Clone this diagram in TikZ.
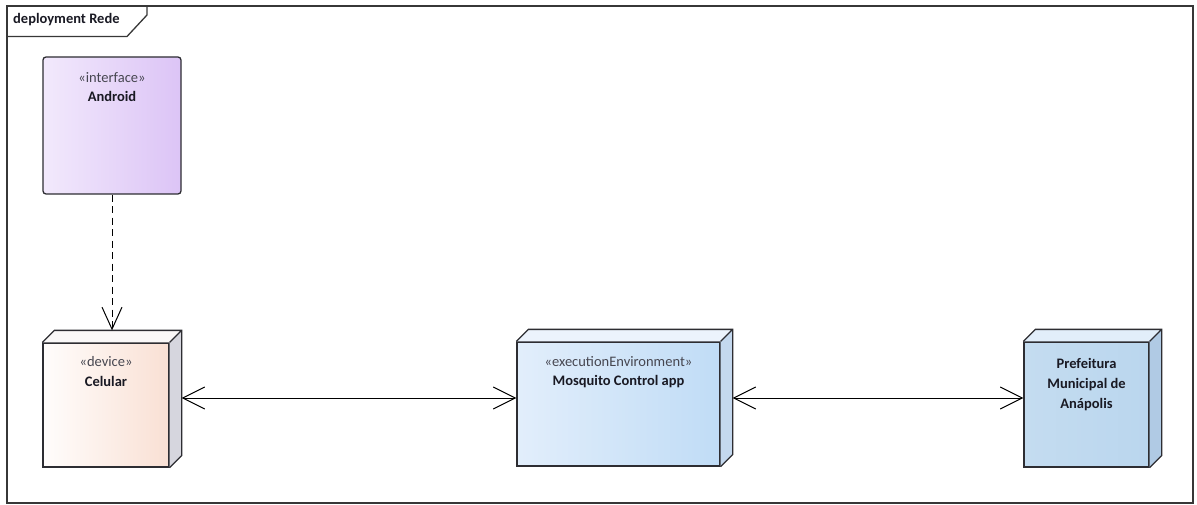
\documentclass[tikz,border=0pt]{standalone}
\usepackage{fontspec}
\setmainfont{Carlito}
\usetikzlibrary{calc,arrows.meta}
\definecolor{framegray}{RGB}{55,55,55}
\definecolor{edgegray}{RGB}{45,45,50}
\definecolor{andL}{RGB}{242,233,252}
\definecolor{andR}{RGB}{220,196,246}
\definecolor{celL}{RGB}{255,253,252}
\definecolor{celR}{RGB}{249,224,212}
\definecolor{celSide}{RGB}{214,214,222}
\definecolor{celTop}{RGB}{250,248,248}
\definecolor{mosL}{RGB}{226,238,251}
\definecolor{mosR}{RGB}{192,220,246}
\definecolor{mosSide}{RGB}{196,216,238}
\definecolor{mosTop}{RGB}{236,243,252}
\definecolor{prfL}{RGB}{196,220,240}
\definecolor{prfR}{RGB}{186,214,238}
\definecolor{prfSide}{RGB}{176,202,228}
\definecolor{prfTop}{RGB}{226,238,250}
\definecolor{stereo}{RGB}{70,70,80}
\definecolor{nametext}{RGB}{25,25,35}
% top and side faces of a 3D box drawn behind a named front-face node
\newcommand{\cubefaces}[3]{%
  \fill[#2] (#1.north west) -- ++(12,-12) -- ($(#1.north east)+(12,-12)$) -- (#1.north east) -- cycle;
  \fill[#3] (#1.north east) -- ++(12,-12) -- ($(#1.south east)+(12,-12)$) -- (#1.south east) -- cycle;
  \draw[edgegray,line width=1.3pt,line join=miter]
    (#1.north west) -- ++(12,-12) -- ($(#1.north east)+(12,-12)$) -- ($(#1.south east)+(12,-12)$) -- (#1.south east)
    (#1.north east) -- ++(12,-12);
}
\begin{document}
\begin{tikzpicture}[x=1pt,y=-1pt,
  font=\fontsize{14.5}{20}\selectfont,
  boxface/.style={draw=edgegray,line width=1.3pt,inner sep=0pt,
    minimum width=#1},
  stereotxt/.style={text=stereo,inner sep=0pt},
  nametxt/.style={text=nametext,font=\fontsize{14.5}{20}\selectfont\bfseries,
    inner sep=0pt,align=center},
  conn/.style={draw=black,line width=1pt}
]
\useasboundingbox (0,0) rectangle (1197,505);

% diagram frame and its name tab
\draw[framegray,line width=1.3pt] (7,6) rectangle (1193,503);
\draw[framegray,line width=1.3pt] (7,36.5) -- (127,36.5) -- (147,15) -- (147,6);
\node[anchor=west,inner sep=0pt,font=\fontsize{14.5}{20}\selectfont\bfseries,text=nametext]
  (title) at (13,20) {deployment Rede};

% interface Android
\node[boxface=138pt,minimum height=137pt,rounded corners=3pt,
  left color=andL,right color=andR] (android) at (112,125.5) {};
\node[stereotxt] (androidSt) at ($(android.north)+(0,21)$) {«interface»};
\node[nametxt] (androidNm) at ($(android.north)+(0,40)$) {Android};

% device Celular
\node[boxface=126pt,minimum height=124pt,left color=celL,right color=celR] (cel) at (106,405) {};
\cubefaces{cel}{celTop}{celSide}
\node[stereotxt] (celSt) at ($(cel.north)+(0,19)$) {«device»};
\node[nametxt] (celNm) at ($(cel.north)+(0,39)$) {Celular};

% execution environment Mosquito Control app
\node[boxface=203pt,minimum height=124pt,left color=mosL,right color=mosR] (mosq) at (618.5,404) {};
\cubefaces{mosq}{mosTop}{mosSide}
\node[stereotxt] (mosqSt) at ($(mosq.north)+(0,20)$) {«executionEnvironment»};
\node[nametxt] (mosqNm) at ($(mosq.north)+(0,40)$) {Mosquito Control app};

% node Prefeitura Municipal de Anápolis
\node[boxface=125pt,minimum height=125pt,left color=prfL,right color=prfR] (pref) at (1086.5,404.5) {};
\cubefaces{pref}{prfTop}{prfSide}
\node[nametxt] (prefNm) at ($(pref.north)+(0,43)$) {Prefeitura\\Municipal de\\Anápolis};

% connection points on the box outlines
\coordinate (celEast) at ($(cel.east)+(12,-7)$);
\coordinate (celTopEdge) at ($(cel.north)+(6,-12)$);
\coordinate (mosqWest) at ($(mosq.west)+(0,-6)$);
\coordinate (mosqEast) at ($(mosq.east)+(12,-6)$);
\coordinate (prefWest) at ($(pref.west)+(0,-6.5)$);

% connectors
\draw[conn,dashed,dash pattern=on 7pt off 4.5pt,-{Straight Barb[length=22pt,width=20pt,line width=1pt]}]
  (android.south) -- (android.south |- celTopEdge);
\draw[conn,{Straight Barb[length=22pt,width=22pt,line width=1pt]}-{Straight Barb[length=22pt,width=22pt,line width=1pt]}]
  (celEast) -- (celEast -| mosqWest);
\draw[conn,{Straight Barb[length=22pt,width=22pt,line width=1pt]}-{Straight Barb[length=22pt,width=22pt,line width=1pt]}]
  (mosqEast) -- (mosqEast -| prefWest);
\end{tikzpicture}
\end{document}
